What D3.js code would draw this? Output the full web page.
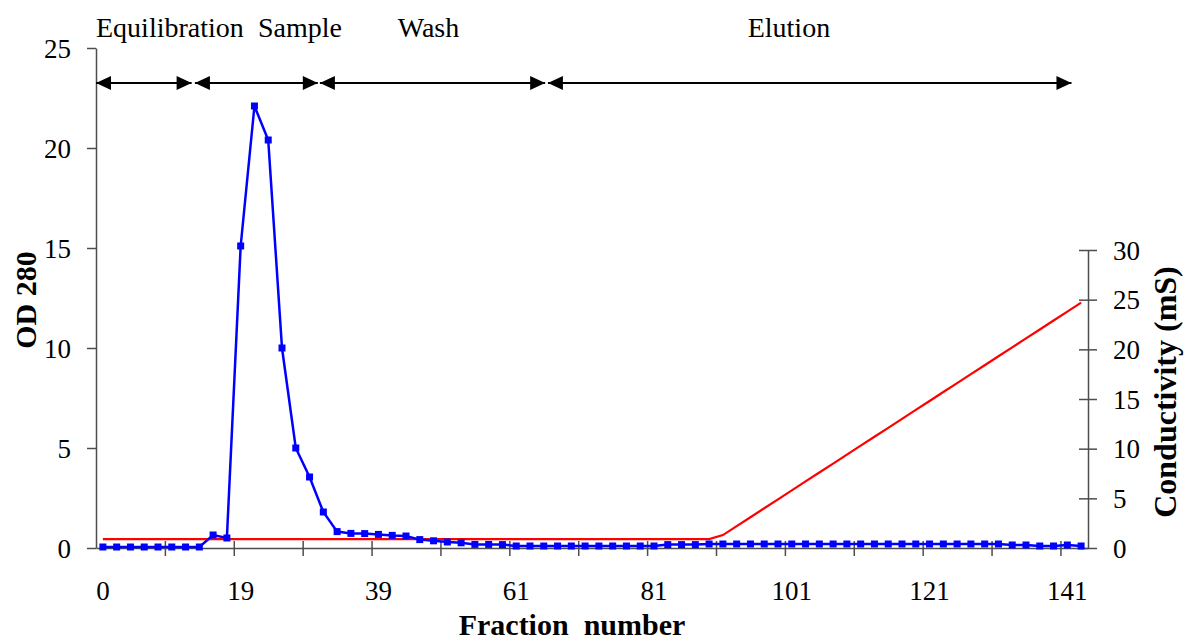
<!DOCTYPE html>
<head>
<meta charset="utf-8">
<title>index.html</title>
</head>
<style>
body { margin: 0; background: #fff; }
svg { display: block; }
text { font-family: "Liberation Serif", "Times New Roman", serif; fill: #000; }
.tick text { font-size: 27px; }
.axis path, .axis line { stroke: #4d4d4d; stroke-width: 1.5; }
.title { font-weight: bold; font-size: 32px; }
.phase { font-size: 28px; }
</style>
<svg width="1184" height="642"></svg>
<script src="https://d3js.org/d3.v7.min.js"></script>
<script>
// fraction number for each sample (one per category)
var fractions = [0, 2, 4, 6, 8, 10, 12, 14, 15, 17,
  19, 21, 23, 25, 27, 29, 31, 33, 35, 37,
  39, 41, 43, 45, 47, 49, 51, 53, 56, 59,
  61, 63, 65, 67, 69, 71, 73, 75, 77, 79,
  81, 83, 85, 87, 89, 91, 93, 95, 97, 99,
  101, 103, 105, 107, 109, 111, 113, 115, 117, 119,
  121, 123, 125, 127, 129, 131, 133, 135, 137, 139,
  141, 143];

var od280 = [0.05, 0.05, 0.05, 0.05, 0.05, 0.05, 0.05, 0.05, 0.65, 0.5,
  15.1, 22.1, 20.4, 10.0, 5.0, 3.55, 1.8, 0.82, 0.73, 0.72,
  0.68, 0.63, 0.6, 0.42, 0.36, 0.3, 0.26, 0.18, 0.18, 0.17,
  0.1, 0.1, 0.1, 0.1, 0.1, 0.1, 0.1, 0.1, 0.1, 0.1,
  0.1, 0.17, 0.17, 0.17, 0.2, 0.2, 0.2, 0.2, 0.2, 0.2,
  0.2, 0.2, 0.2, 0.2, 0.2, 0.2, 0.2, 0.2, 0.2, 0.2,
  0.2, 0.2, 0.2, 0.2, 0.2, 0.2, 0.15, 0.15, 0.1, 0.1,
  0.15, 0.1];

var conductivity = [0.9, 0.9, 0.9, 0.9, 0.9, 0.9, 0.9, 0.9, 0.9, 0.9,
  0.9, 0.9, 0.9, 0.9, 0.9, 0.9, 0.9, 0.9, 0.9, 0.9,
  0.9, 0.9, 0.9, 0.9, 0.9, 0.9, 0.9, 0.9, 0.9, 0.9,
  0.9, 0.9, 0.9, 0.9, 0.9, 0.9, 0.9, 0.9, 0.9, 0.9,
  0.9, 0.9, 0.9, 0.9, 0.9, 1.3, 2.2, 3.1, 4.0, 4.9,
  5.8, 6.7, 7.6, 8.5, 9.4, 10.3, 11.2, 12.1, 13.0, 13.9,
  14.8, 15.7, 16.6, 17.5, 18.4, 19.3, 20.2, 21.1, 22.0, 22.9,
  23.8, 24.7];

var odTicks = [0, 5, 10, 15, 20, 25];
var condTicks = [0, 5, 10, 15, 20, 25, 30];

// run phases, in category units
var phases = ["Equilibration", "Sample", "Wash", "Elution"];
var phaseFrom = [-0.5, 6.68, 15.75, 32.3];
var phaseTo = [6.44, 15.6, 32.1, 70.3];
var phaseLabelAt = [-0.5, 11.25, 21.4, 46.8];

var svg = d3.select("svg"),
    margin = { top: 48, right: 96, bottom: 94, left: 96 },
    width = +svg.attr("width"),
    height = +svg.attr("height");

var x0 = margin.left, x1 = width - margin.right, yBase = height - margin.bottom;
var serif = '"Liberation Serif", "Times New Roman", serif';

var idx = d3.range(fractions.length);

var x = d3.scaleBand().domain(idx).range([x0, x1]).padding(0);
var xc = d3.scaleLinear().domain([-0.5, fractions.length - 0.5]).range([x0, x1]);

var yL = d3.scaleLinear().domain([0, 25]).range([yBase, margin.top]);
var yR = d3.scaleLinear().domain([0, 30]).range([yBase, 250]);

// x axis: tick marks every 5 categories, labels every 10
var gx = svg.append("g").attr("class", "axis")
    .attr("transform", "translate(0," + yBase + ")")
    .call(d3.axisBottom(d3.scaleLinear().domain([0, fractions.length]).range([x0, x1]))
      .tickValues(d3.range(5, 71, 5)).tickFormat("").tickSize(8).tickSizeOuter(0));
gx.selectAll(".tick line").attr("y1", -7);

svg.append("g").attr("class", "axis xlab")
    .attr("transform", "translate(0," + yBase + ")")
    .call(d3.axisBottom(x)
      .tickValues(idx.filter(function(i) { return i % 10 == 0; }))
      .tickFormat(function(i) { return fractions[i]; })
      .tickSize(0).tickPadding(33))
    .call(function(g) { g.select(".domain").remove(); });

// left axis
svg.append("g").attr("class", "axis")
    .attr("transform", "translate(" + x0 + ",0)")
    .call(d3.axisLeft(yL).tickValues(odTicks).tickSize(9).tickSizeOuter(0).tickPadding(16));

// right axis, ticks cross the line
var gr = svg.append("g").attr("class", "axis")
    .attr("transform", "translate(" + x1 + ",0)")
    .call(d3.axisRight(yR).tickValues(condTicks).tickSize(9).tickSizeOuter(0).tickPadding(16));
gr.selectAll(".tick line").attr("x1", -9);

svg.selectAll(".axis").attr("font-family", serif).attr("font-size", 27);
svg.selectAll(".tick text").attr("dy", "0.34em");
svg.selectAll(".xlab .tick text").attr("dy", "0.71em");

// conductivity series
svg.append("path")
    .datum(idx)
    .attr("fill", "none")
    .attr("stroke", "#ff0000")
    .attr("stroke-width", 2.2)
    .attr("d", d3.line()
      .x(function(i) { return x(i) + x.bandwidth() / 2; })
      .y(function(i) { return yR(conductivity[i]); }));

// OD 280 series
svg.append("path")
    .datum(idx)
    .attr("fill", "none")
    .attr("stroke", "#0000ff")
    .attr("stroke-width", 2.5)
    .attr("d", d3.line()
      .x(function(i) { return x(i) + x.bandwidth() / 2; })
      .y(function(i) { return yL(od280[i]); }));

svg.selectAll("rect.pt")
  .data(idx)
  .enter().append("rect")
    .attr("class", "pt")
    .attr("x", function(i) { return x(i) + x.bandwidth() / 2 - 3.5; })
    .attr("y", function(i) { return yL(od280[i]) - 3.5; })
    .attr("width", 7)
    .attr("height", 7)
    .attr("fill", "#0000ff");

// phase arrows
var arrowY = 83;
var ph = svg.selectAll("g.phase-arrow")
  .data(phases)
  .enter().append("g").attr("class", "phase-arrow");

ph.append("line")
    .attr("x1", function(d, i) { return xc(phaseFrom[i]); })
    .attr("x2", function(d, i) { return xc(phaseTo[i]); })
    .attr("y1", arrowY).attr("y2", arrowY)
    .attr("stroke", "#000").attr("stroke-width", 2);

ph.append("path")
    .attr("d", function(d, i) {
      var a = xc(phaseFrom[i]), b = xc(phaseTo[i]);
      return "M" + a + "," + arrowY + "L" + (a + 15) + "," + (arrowY - 7) + "L" + (a + 15) + "," + (arrowY + 7) + "Z" +
             "M" + b + "," + arrowY + "L" + (b - 15) + "," + (arrowY - 7) + "L" + (b - 15) + "," + (arrowY + 7) + "Z";
    })
    .attr("fill", "#000");

ph.append("text")
    .attr("class", "phase")
    .attr("x", function(d, i) { return xc(phaseLabelAt[i]); })
    .attr("y", 37)
    .text(function(d) { return d; });

// axis titles
svg.append("text").attr("class", "title")
    .attr("transform", "translate(36,300) rotate(-90)")
    .attr("text-anchor", "middle")
    .style("font-size", "30px")
    .text("OD 280");

svg.append("text").attr("class", "title")
    .attr("transform", "translate(1176,392) rotate(-90)")
    .attr("text-anchor", "middle")
    .text("Conductivity (mS)");

svg.append("text").attr("class", "title")
    .attr("x", 572).attr("y", 635)
    .attr("text-anchor", "middle")
    .style("white-space", "pre")
    .style("font-size", "30px")
    .text("Fraction  number");
</script>
